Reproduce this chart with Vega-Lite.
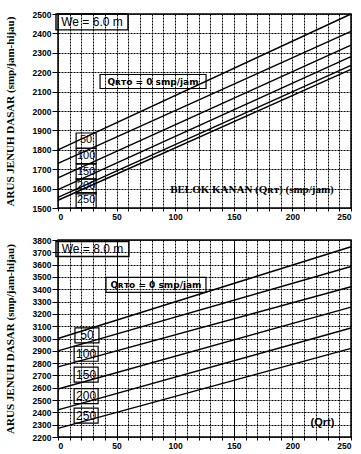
{
  "$schema": "https://vega.github.io/schema/vega-lite/v6.json",
  "background": "white",
  "padding": {"left": 3, "top": 9, "right": 4, "bottom": 0},
  "spacing": 13,
  "config": {
    "view": {"stroke": "black", "strokeWidth": 1.5},
    "axis": {
      "domain": false,
      "grid": true,
      "gridColor": "black",
      "gridDash": [2, 1],
      "gridWidth": 1,
      "gridOpacity": 1,
      "tickColor": "black",
      "labelFont": "Liberation Sans",
      "labelFontWeight": "bold",
      "labelFontSize": 8.5,
      "labelColor": "black",
      "format": "d",
      "titleFont": "Liberation Serif",
      "titleFontWeight": "bold",
      "titleFontSize": 11,
      "titleColor": "black"
    }
  },
  "datasets": {
    "top": [
      {"qrto": 0, "qrt": 0, "s": 1800}, {"qrto": 0, "qrt": 250, "s": 2500},
      {"qrto": 50, "qrt": 0, "s": 1730}, {"qrto": 50, "qrt": 250, "s": 2410},
      {"qrto": 100, "qrt": 0, "s": 1655}, {"qrto": 100, "qrt": 250, "s": 2340},
      {"qrto": 150, "qrt": 0, "s": 1595}, {"qrto": 150, "qrt": 250, "s": 2280},
      {"qrto": 200, "qrt": 0, "s": 1555}, {"qrto": 200, "qrt": 250, "s": 2235},
      {"qrto": 250, "qrt": 0, "s": 1540}, {"qrto": 250, "qrt": 250, "s": 2215}
    ],
    "bottom": [
      {"qrto": 0, "qrt": 0, "s": 3000}, {"qrto": 0, "qrt": 250, "s": 3745},
      {"qrto": 50, "qrt": 0, "s": 2900}, {"qrto": 50, "qrt": 250, "s": 3585},
      {"qrto": 100, "qrt": 0, "s": 2770}, {"qrto": 100, "qrt": 250, "s": 3420},
      {"qrto": 150, "qrt": 0, "s": 2590}, {"qrto": 150, "qrt": 250, "s": 3255},
      {"qrto": 200, "qrt": 0, "s": 2420}, {"qrto": 200, "qrt": 250, "s": 3085},
      {"qrto": 250, "qrt": 0, "s": 2270}, {"qrto": 250, "qrt": 250, "s": 2920}
    ],
    "topNums": [
      {"label": "50", "qrt": 24, "s": 1848},
      {"label": "100", "qrt": 24, "s": 1768},
      {"label": "150", "qrt": 24, "s": 1688},
      {"label": "200", "qrt": 24, "s": 1611},
      {"label": "250", "qrt": 24, "s": 1541}
    ],
    "bottomNums": [
      {"label": "50", "qrt": 24.7, "s": 3026},
      {"label": "100", "qrt": 24, "s": 2876},
      {"label": "150", "qrt": 24, "s": 2706},
      {"label": "200", "qrt": 24, "s": 2532},
      {"label": "250", "qrt": 24, "s": 2374}
    ],
    "topWe": [{"label": "We = 6.0 m", "qrt": 29, "s": 2459}],
    "bottomWe": [{"label": "We = 8.0 m", "qrt": 29.4, "s": 3727}],
    "topQ": [{"label": "Qʀᴛᴏ = 0 smp/jam", "qrt": 81.1, "s": 2152}],
    "bottomQ": [{"label": "Qʀᴛᴏ = 0 smp/jam", "qrt": 83.6, "s": 3435}],
    "topX": [{"label": "BELOK KANAN (Qʀᴛ) (smp/jam)", "qrt": 165.5, "s": 1593}],
    "bottomX": [{"label": "(Qrt)", "qrt": 225.7, "s": 2317}]
  },
  "vconcat": [
    {
      "width": 293,
      "height": 194,
      "encoding": {
        "x": {"field": "qrt", "type": "quantitative", "scale": {"domain": [0, 250], "nice": false},
          "axis": {"title": null, "values": [0,10,20,30,40,50,60,70,80,90,100,110,120,130,140,150,160,170,180,190,200,210,220,230,240,250],
            "labelExpr": "datum.value % 50 === 0 ? datum.label : ''", "tickSize": 3, "labelPadding": 1}},
        "y": {"field": "s", "type": "quantitative", "scale": {"domain": [1500, 2500], "nice": false},
          "axis": {"title": "ARUS JENUH DASAR (smp/jam-hijau)", "values": [1500,1600,1700,1800,1900,2000,2100,2200,2300,2400,2500],
            "tickSize": 6, "labelPadding": 1, "titlePadding": 17}}
      },
      "layer": [
        {"data": {"name": "top"}, "mark": {"type": "line", "color": "black", "strokeWidth": 1.4},
          "encoding": {"detail": {"field": "qrto", "type": "nominal"}}},
        {"data": {"name": "topNums"}, "mark": {"type": "point", "shape": "M-1,-0.75H1V0.75H-1Z", "size": 400, "filled": false, "color": "black", "strokeWidth": 1.2, "opacity": 1}},
        {"data": {"name": "topNums"}, "mark": {"type": "text", "font": "Liberation Sans", "fontSize": 11, "color": "black", "baseline": "middle"},
          "encoding": {"text": {"field": "label"}}},
        {"data": {"name": "topWe"}, "mark": {"type": "point", "shape": "M-1,-0.22H1V0.22H-1Z", "size": 5184, "filled": false, "color": "black", "strokeWidth": 1.4, "opacity": 1}},
        {"data": {"name": "topWe"}, "mark": {"type": "text", "font": "Liberation Sans", "fontSize": 12, "color": "black", "baseline": "middle"},
          "encoding": {"text": {"field": "label"}}},
        {"data": {"name": "topQ"}, "mark": {"type": "point", "shape": "M-1,-0.132H1V0.132H-1Z", "size": 11236, "filled": false, "color": "black", "strokeWidth": 1.2, "opacity": 1}},
        {"data": {"name": "topQ"}, "mark": {"type": "text", "font": "DejaVu Sans", "fontWeight": "bold", "fontSize": 9, "color": "black", "baseline": "middle"},
          "encoding": {"text": {"field": "label"}}},
        {"data": {"name": "topX"}, "mark": {"type": "text", "font": "Liberation Serif", "fontWeight": "bold", "fontSize": 11, "color": "black", "baseline": "middle"},
          "encoding": {"text": {"field": "label"}}}
      ]
    },
    {
      "width": 293,
      "height": 197,
      "encoding": {
        "x": {"field": "qrt", "type": "quantitative", "scale": {"domain": [0, 250], "nice": false},
          "axis": {"title": null, "values": [0,10,20,30,40,50,60,70,80,90,100,110,120,130,140,150,160,170,180,190,200,210,220,230,240,250],
            "labelExpr": "datum.value % 50 === 0 ? datum.label : ''", "tickSize": 3, "labelPadding": 1,
            "gridDash": {"condition": {"test": "datum.value === 50 || datum.value === 150", "value": []}, "value": [2, 1]}}},
        "y": {"field": "s", "type": "quantitative", "scale": {"domain": [2200, 3800], "nice": false},
          "axis": {"title": "ARUS JENUH DASAR (smp/jam-hijau)", "values": [2200,2300,2400,2500,2600,2700,2800,2900,3000,3100,3200,3300,3400,3500,3600,3700,3800],
            "tickSize": 6, "labelPadding": 1, "titlePadding": 17}}
      },
      "layer": [
        {"data": {"name": "bottom"}, "mark": {"type": "line", "color": "black", "strokeWidth": 1.4},
          "encoding": {"detail": {"field": "qrto", "type": "nominal"}}},
        {"data": {"name": "bottomNums"}, "mark": {"type": "point", "shape": "M-1,-0.625H1V0.625H-1Z", "size": 576, "filled": false, "color": "black", "strokeWidth": 1.2, "opacity": 1}},
        {"data": {"name": "bottomNums"}, "mark": {"type": "text", "font": "Liberation Sans", "fontSize": 12, "color": "black", "baseline": "middle"},
          "encoding": {"text": {"field": "label"}}},
        {"data": {"name": "bottomWe"}, "mark": {"type": "point", "shape": "M-1,-0.205H1V0.205H-1Z", "size": 5329, "filled": false, "color": "black", "strokeWidth": 1.4, "opacity": 1}},
        {"data": {"name": "bottomWe"}, "mark": {"type": "text", "font": "Liberation Sans", "fontSize": 12, "color": "black", "baseline": "middle"},
          "encoding": {"text": {"field": "label"}}},
        {"data": {"name": "bottomQ"}, "mark": {"type": "point", "shape": "M-1,-0.15H1V0.15H-1Z", "size": 10000, "filled": false, "color": "black", "strokeWidth": 1.2, "opacity": 1}},
        {"data": {"name": "bottomQ"}, "mark": {"type": "text", "font": "DejaVu Sans", "fontWeight": "bold", "fontSize": 9, "color": "black", "baseline": "middle"},
          "encoding": {"text": {"field": "label"}}},
        {"data": {"name": "bottomX"}, "mark": {"type": "text", "font": "Liberation Sans", "fontWeight": "bold", "fontSize": 11, "color": "black", "baseline": "middle"},
          "encoding": {"text": {"field": "label"}}}
      ]
    }
  ]
}
